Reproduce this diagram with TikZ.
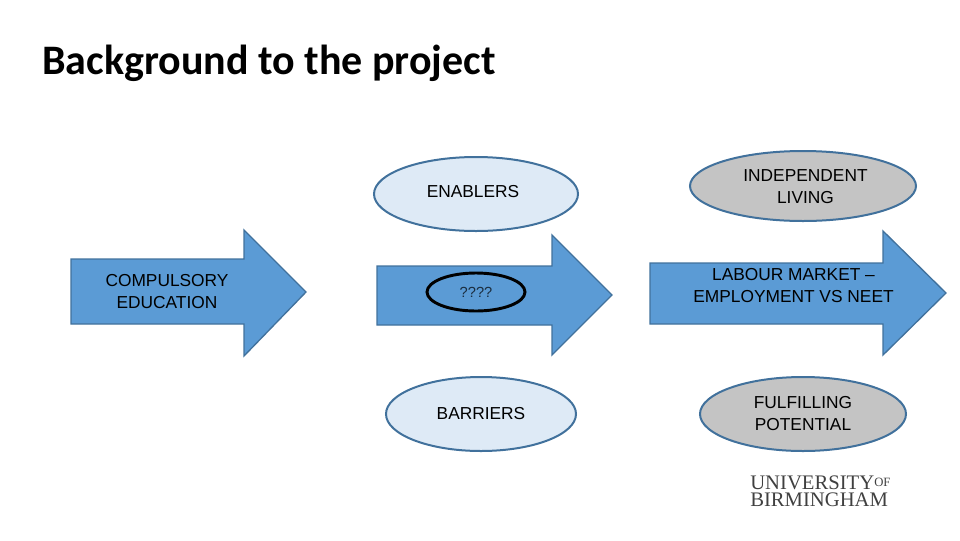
\documentclass[tikz,border=0pt]{standalone}
\usepackage{fontspec}
\setmainfont{Liberation Sans}
\newfontfamily\titlefont{Carlito}
\newfontfamily\logofont{Liberation Serif}
\usetikzlibrary{shapes.geometric}
\definecolor{arrowfill}{HTML}{5B9BD5}
\definecolor{edgeblue}{HTML}{41719C}
\definecolor{paleblue}{HTML}{DEEAF6}
\definecolor{greyfill}{HTML}{C4C4C4}
\tikzset{
  bigarrow/.style={fill=arrowfill,draw=edgeblue,line width=1pt,line join=miter},
  oval/.style={ellipse,draw=edgeblue,line width=1.5pt,inner sep=0pt,outer sep=0pt,align=center,font=\fontsize{13}{16.5}\selectfont},
  paleoval/.style={oval,fill=paleblue},
  greyoval/.style={oval,fill=greyfill},
  lbl/.style={align=center,inner sep=0pt,font=\fontsize{13}{16.5}\selectfont}
}
\begin{document}
\begin{tikzpicture}[x=0.75pt,y=-0.75pt]
\useasboundingbox (0,0) rectangle (960,540);
\node[anchor=base west,inner sep=0pt,font=\titlefont\fontsize{31.5}{36}\selectfont] (title) at (42,74) {\textbf{Background to the project}};
\draw[bigarrow] (71,259) -- (244,259) -- (244,230) -- (306,292) -- (244,356) -- (244,324) -- (71,324) -- cycle;
\draw[bigarrow] (377,266) -- (552,266) -- (552,235) -- (612,295) -- (552,355) -- (552,325) -- (377,325) -- cycle;
\draw[bigarrow] (650,263) -- (883,263) -- (883,231) -- (946,293) -- (883,355) -- (883,324) -- (650,324) -- cycle;
\node[lbl] (compulsory) at (167,292) {COMPULSORY\\EDUCATION};
\node[lbl] (labour) at (793.5,286) {LABOUR MARKET --\\EMPLOYMENT VS NEET};
\node[paleoval,minimum width=153pt,minimum height=55.5pt] (enablers) at (476,194) {};
\node[lbl] at (473,192) {ENABLERS};
\node[paleoval,minimum width=142.5pt,minimum height=55.5pt] (barriers) at (481,414) {BARRIERS};
\node[greyoval,minimum width=169.5pt,minimum height=52.5pt] (independent) at (803,186) {};
\node[lbl] at (805.5,187) {INDEPENDENT\\LIVING};
\node[greyoval,minimum width=154.5pt,minimum height=55.5pt] (fulfilling) at (803,414) {FULFILLING\\POTENTIAL};
\node[ellipse,draw=black,line width=2.2pt,minimum width=73.5pt,minimum height=28.5pt,inner sep=0pt,font=\fontsize{11}{13}\selectfont,text=black!70!arrowfill] (unknown) at (476,292) {????};
\node[anchor=base west,inner sep=0pt,font=\logofont\fontsize{15.5}{18}\selectfont,text=black!75] (uni) at (750,489) {UNIVERSITY\raisebox{2pt}{\fontsize{9.5}{10}\selectfont OF}};
\node[anchor=base west,inner sep=0pt,font=\logofont\fontsize{15.5}{18}\selectfont,text=black!75] (bham) at (750,506) {BIRMINGHAM};
\end{tikzpicture}
\end{document}
